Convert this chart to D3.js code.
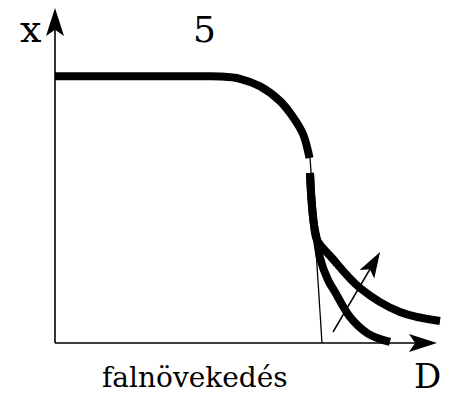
<!DOCTYPE html>
<html><head><meta charset="utf-8">
<script src="https://cdn.jsdelivr.net/npm/d3@7"></script>
<style>html,body{margin:0;padding:0;background:#fff;}svg{display:block;}</style>
</head><body>
<div id="chart"></div>
<script>
// Data in chart units: D (horizontal) 0..100, x (vertical) 0..100
const upperCurve = [[0,79.6],[37.96,79.6],[43.19,79.55],[48.43,78.87],[53.66,76.63],[58.9,72.24],[62.3,67.46],[64.92,62.39],[66.23,57.31],[66.62,55.22]];
const stemCurve = [[66.75,50.75],[67.15,42.69],[67.8,35.22],[68.59,30.75]];
const branchLow = [[69.37,25.37],[71.47,18.81],[73.3,15.22],[77.23,7.76],[81.68,2.99],[85.08,1.19],[87.7,0.3]];
const branchHigh = [[72.51,25.37],[79.84,16.42],[90.31,9.25],[100.79,6.57]];
const tangentLine = [[66.6,58.2],[69.9,0]];
const shiftArrow = [[72.8,3.3],[85.1,27.2]];
const axisY = [[0,0],[0,100]];
const axisX = [[0,0],[100,0]];
const labels = {y:"x", x:"D", top:"5", bottom:"falnövekedés"};

const W=450,H=395;
const svg=d3.select("#chart").append("svg").attr("width",W).attr("height",H);
const xS=d3.scaleLinear().domain([0,100]).range([55,437]);
const yS=d3.scaleLinear().domain([0,100]).range([343,8]);

const straight=d3.line().x(d=>xS(d[0])).y(d=>yS(d[1]));
const smooth=d3.line().x(d=>xS(d[0])).y(d=>yS(d[1])).curve(d3.curveCatmullRom.alpha(0.5));

function arrowLine(pts,sw,len,hw){
  const p0=[xS(pts[0][0]),yS(pts[0][1])], p1=[xS(pts[1][0]),yS(pts[1][1])];
  const dx=p1[0]-p0[0], dy=p1[1]-p0[1], L=Math.hypot(dx,dy), ux=dx/L, uy=dy/L, nx=-uy, ny=ux;
  const bx=p1[0]-ux*len, by=p1[1]-uy*len;
  const mx=p1[0]-ux*len*0.78, my=p1[1]-uy*len*0.78;
  svg.append("line").attr("x1",p0[0]).attr("y1",p0[1]).attr("x2",mx).attr("y2",my)
    .attr("stroke","#000").attr("stroke-width",sw);
  svg.append("path").attr("d",`M${p1[0]},${p1[1]}L${bx+nx*hw},${by+ny*hw}L${mx},${my}L${bx-nx*hw},${by-ny*hw}Z`).attr("fill","#000");
}
arrowLine(axisY,1.6,28,9);
arrowLine(axisX,1.6,28,9);
arrowLine(shiftArrow,1.6,26,8.5);
svg.append("path").attr("d",straight(tangentLine)).attr("stroke","#000").attr("stroke-width",1.3).attr("fill","none");

svg.append("path").attr("d",smooth(upperCurve)).attr("stroke","#000").attr("stroke-width",8).attr("fill","none");
[stemCurve.concat(branchLow),stemCurve.concat(branchHigh)].forEach(c=>{
  svg.append("path").attr("d",smooth(c)).attr("stroke","#000").attr("stroke-width",8).attr("fill","none").attr("stroke-linecap","butt");
});

const font="DejaVu Serif";
svg.append("text").attr("x",20).attr("y",42).attr("font-family",font).attr("font-size",38).text(labels.y);
svg.append("text").attr("x",193).attr("y",42).attr("font-family",font).attr("font-size",36).text(labels.top);
svg.append("text").attr("x",102).attr("y",387).attr("font-family",font).attr("font-size",28).text(labels.bottom);
svg.append("text").attr("x",414).attr("y",388).attr("font-family",font).attr("font-size",34).text(labels.x);
</script>
</body></html>
